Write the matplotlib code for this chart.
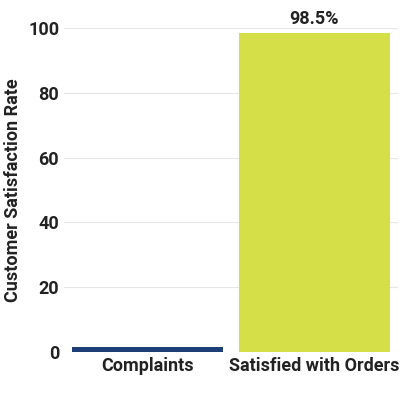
import matplotlib.pyplot as plt

categories = ["Complaints", "Satisfied with Orders"]
values = [1.5, 98.5]
colors = ["#1c3f78", "#d5e048"]

plt.rcParams['font.family'] = ['Liberation Sans Narrow', 'Roboto', 'DejaVu Sans']

fig, ax = plt.subplots(figsize=(4, 4), dpi=100)
fig.subplots_adjust(left=0.16, right=0.995, top=0.93, bottom=0.12)
bars = ax.bar(categories, values, color=colors, width=0.9)
ax.text(1, values[1] + 1.5, f"{values[1]}%", ha="center", va="bottom",
        fontsize=13, fontweight="bold", color="#222222")
ax.set_ylim(0, 100)
ax.set_xlim(-0.5, 1.5)
ax.set_yticks([0, 20, 40, 60, 80, 100])
ax.set_ylabel("Customer Satisfaction Rate", fontsize=13, fontweight="bold", color="#222222")
ax.tick_params(axis="both", labelsize=13, length=0, labelcolor="#222222")
for lab in ax.get_xticklabels() + ax.get_yticklabels():
    lab.set_fontweight("bold")
ax.grid(axis="y", color="#e6e6e6", linewidth=0.8)
ax.set_axisbelow(True)
for s in ax.spines.values():
    s.set_visible(False)
fig.savefig("out.png")
